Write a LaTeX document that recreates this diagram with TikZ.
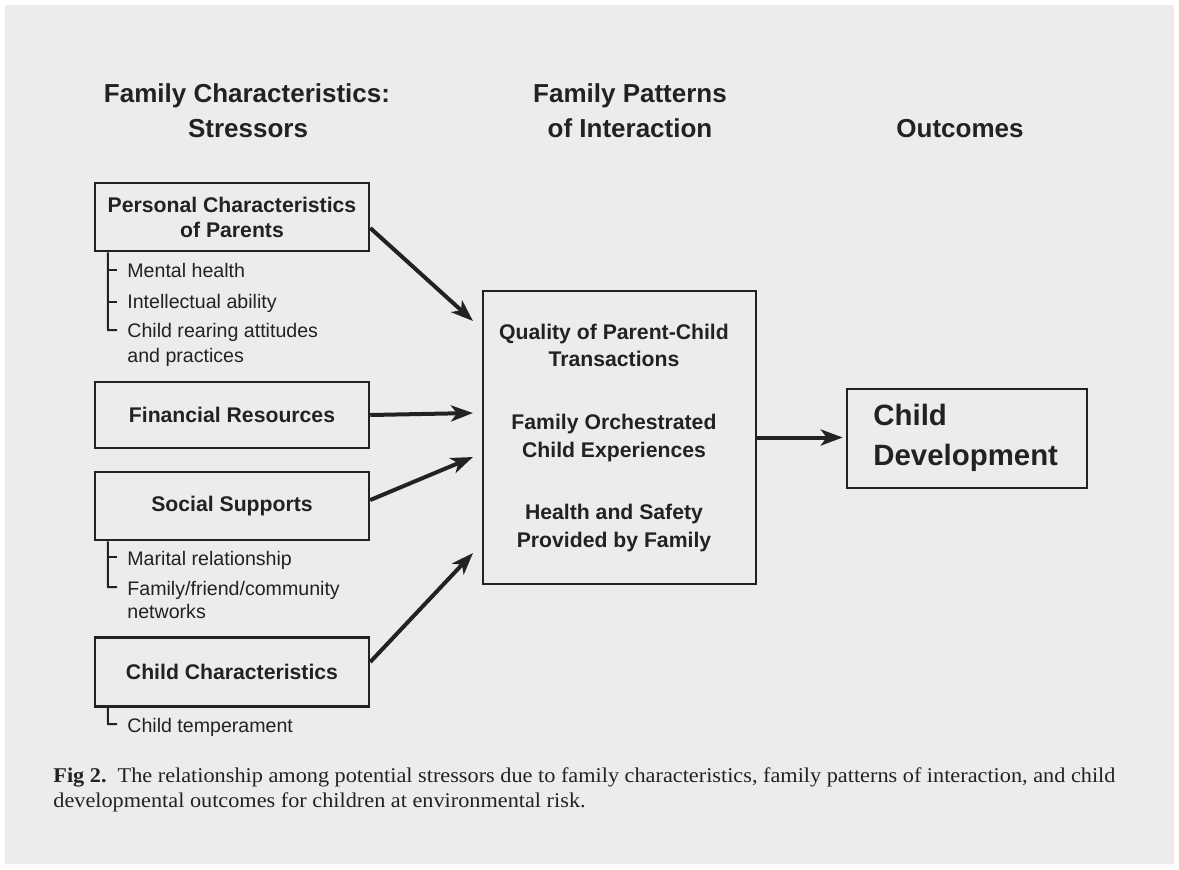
\documentclass[tikz,border=0pt]{standalone}
\usepackage{fontspec}
\setmainfont{Liberation Serif}
\setsansfont{Liberation Sans}
\newfontfamily\capfont[FakeStretch=1.06]{Liberation Serif}
\usetikzlibrary{arrows.meta}
\definecolor{bg}{RGB}{236,236,234}
\definecolor{ink}{RGB}{34,34,34}
\tikzset{
  box/.style={draw=ink, line width=1.25pt, inner sep=0pt, font=\sffamily\bfseries\fontsize{10.6}{12.5}\selectfont, text=ink, align=center},
  head/.style={anchor=base, font=\sffamily\bfseries\fontsize{13}{15}\selectfont, text=ink},
  ctext/.style={anchor=base, font=\sffamily\bfseries\fontsize{10.6}{12.5}\selectfont, text=ink},
  item/.style={anchor=base west, inner sep=0pt, font=\sffamily\fontsize{9.8}{11}\selectfont, text=ink},
  brk/.style={draw=ink, line width=1pt},
  arr/.style={draw=ink, line width=2pt, -{Stealth[length=11pt,width=8pt,inset=3pt]}},
  captxt/.style={anchor=base west, inner sep=0pt, font=\capfont\fontsize{10.5}{12}\selectfont, text=ink}
}
\begin{document}
\begin{tikzpicture}[x=0.5pt,y=-0.5pt]
\useasboundingbox (0,0) rectangle (1179,869);
\fill[white] (0,0) rectangle (1179,869);
\fill[bg] (5,5) rectangle (1174,864);

% headers
\node[head] (h1a) at (247,102) {Family Characteristics:};
\node[head] (h1b) at (248,137) {Stressors};
\node[head] (h2a) at (630,102) {Family Patterns};
\node[head] (h2b) at (630,137) {of Interaction};
\node[head] (h3) at (960,137) {Outcomes};

% left boxes
\node[box, minimum width=137pt, minimum height=34pt] (b1) at (232,217) {Personal Characteristics\\of Parents};
\node[box, minimum width=137pt, minimum height=33pt] (b2) at (232,415) {Financial Resources};
\node[box, minimum width=137pt, minimum height=34pt] (b3) at (232,506) {Social Supports};
\node[box, minimum width=137pt, minimum height=34.5pt] (b4) at (232,672) {Child Characteristics};

% sub items
\node[item] (i1) at (127,277) {Mental health};
\node[item] (i2) at (127,308) {Intellectual ability};
\node[item] (i3) at (127,337) {Child rearing attitudes};
\node[item] (i3b) at (127,362) {and practices};
\node[item] (s1) at (127,565) {Marital relationship};
\node[item] (s2) at (127,595) {Family/friend/community};
\node[item] (s2b) at (127,618) {networks};
\node[item] (c1) at (127,732) {Child temperament};

% brackets
\draw[brk] ([xshift=7.1pt]b1.south west) -- (108,330) -- (117,330);
\draw[brk] (108,270) -- (117,270);
\draw[brk] (108,302) -- (117,302);
\draw[brk] ([xshift=7.1pt]b3.south west) -- (108,587) -- (117,587);
\draw[brk] (108,557) -- (117,557);
\draw[brk] ([xshift=7.1pt]b4.south west) -- (108,724) -- (117,724);

% central box
\node[draw=ink, line width=1.25pt, minimum width=136.5pt, minimum height=146.5pt, inner sep=0pt] (mid) at (619.5,437.5) {};
\node[ctext] (m1) at (614,339) {Quality of Parent-Child};
\node[ctext] (m2) at (614,366) {Transactions};
\node[ctext] (m3) at (614,429) {Family Orchestrated};
\node[ctext] (m4) at (614,457) {Child Experiences};
\node[ctext] (m5) at (614,519) {Health and Safety};
\node[ctext] (m6) at (614,547) {Provided by Family};

% outcome box
\node[draw=ink, line width=1.25pt, minimum width=120pt, minimum height=49.5pt, inner sep=0pt] (cd) at (967,438.5) {};
\node[anchor=base west, inner sep=0pt, font=\sffamily\bfseries\fontsize{14.7}{16}\selectfont, text=ink] (cd1) at (873,425) {Child};
\node[anchor=base west, inner sep=0pt, font=\sffamily\bfseries\fontsize{14.7}{16}\selectfont, text=ink] (cd2) at (873,465) {Development};

% arrow targets
\coordinate (t1) at (473,321);
\coordinate (t2) at (473,413);
\coordinate (t3) at (473,457);
\coordinate (t4) at (473,553);

\draw[arr] ([yshift=-5.5pt]b1.east) -- (t1);
\draw[arr] (b2.east) -- (t2);
\draw[arr] ([yshift=3pt]b3.east) -- (t3);
\draw[arr] ([yshift=5pt]b4.east) -- (t4);
\draw[arr, shorten >=1.5pt] (mid.east) -- (cd.west |- mid.east);

% caption
\node[captxt] (cap1) at (53,782) {\textbf{Fig 2.}\ \ The relationship among potential stressors due to family characteristics, family patterns of interaction, and child};
\node[captxt] (cap2) at (53,807) {developmental outcomes for children at environmental risk.};
\end{tikzpicture}
\end{document}
